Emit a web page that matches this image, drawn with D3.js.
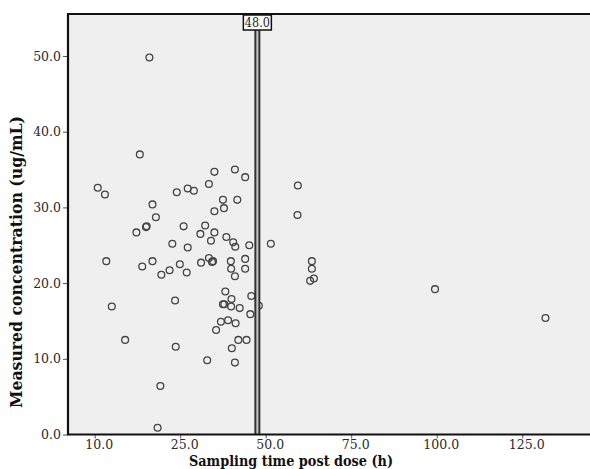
<!DOCTYPE html>
<html>
<head>
<meta charset="utf-8">
<script src="https://cdn.jsdelivr.net/npm/d3@7"></script>
<style>
body{margin:0;background:#fff;}
svg{display:block;}
.tick text{font-family:"DejaVu Serif",serif;font-size:12.5px;fill:#2a2a2a;}
</style>
</head>
<body>
<svg id="chart" width="590" height="469"></svg>
<script>
// sampling time (h) for each sample
var timeH = [16.0,13.2,0.9,3.0,24.0,27.2,29.0,33.4,35.0,41.0,44.0,16.9,17.9,12.2,15.0,15.2,26.0,37.5,41.7,35.0,
	37.8,32.3,30.9,35.0,38.5,59.4,59.3,22.7,27.2,34.0,40.5,41.1,45.2,51.5,3.4,13.9,16.9,24.9,31.1,33.4,
	34.3,34.6,39.8,44.0,39.9,41.0,44.0,19.5,21.9,26.9,38.2,40.0,45.8,37.5,37.9,39.9,42.4,45.5,48.0,5.0,
	23.5,36.9,39.0,41.2,35.5,8.9,42.0,44.4,23.7,40.1,32.9,41.0,19.2,18.4,63.5,63.5,64.1,63.0,99.5,131.8];
// measured concentration (ug/mL)
var conc = [49.8,37.0,32.6,31.7,32.0,32.5,32.2,33.1,34.7,35.0,34.0,30.4,28.7,26.7,27.4,27.5,27.5,31.0,31.0,29.5,
	29.9,27.6,26.5,26.7,26.1,32.9,29.0,25.2,24.7,25.6,25.4,24.8,25.0,25.2,22.9,22.2,22.9,22.5,22.7,23.3,
	22.8,22.9,22.9,23.2,21.9,20.9,21.9,21.1,21.7,21.4,18.9,17.9,18.3,17.2,17.2,16.9,16.7,15.9,17.0,16.9,
	17.7,14.9,15.1,14.7,13.8,12.5,12.5,12.5,11.6,11.4,9.8,9.5,6.4,0.9,22.9,21.9,20.6,20.3,19.2,15.4];
var yTicks = [0,10,20,30,40,50];
var xTickValues = [0,25,50,75,100,125];
var xTickLabels = ["10.0","25.0","50.0","75.0","100.0","125.0"];
var refLine = 48;

var svg = d3.select("#chart");
var pLeft = 68, pTop = 14, pRight = 592, pBottom = 434.5;

var x = d3.scaleLinear().domain([-7.8, 145.4]).range([pLeft, pRight]);
var y = d3.scaleLinear().domain([0, 55.55]).range([pBottom, pTop]);

// plot background
svg.append("rect").attr("x", pLeft).attr("y", pTop)
	.attr("width", pRight - pLeft + 4).attr("height", pBottom - pTop)
	.attr("fill", "#efefef");

// y axis
var yAxis = svg.append("g").attr("transform", "translate(" + pLeft + ",0)")
	.call(d3.axisLeft(y).tickValues(yTicks).tickFormat(d3.format(".1f")).tickSize(5).tickPadding(2));
yAxis.select(".domain").remove();
yAxis.selectAll(".tick line").attr("stroke", "#555");

// x axis
var xAxis = svg.append("g").attr("transform", "translate(0," + pBottom + ")")
	.call(d3.axisBottom(x).tickValues(xTickValues)
		.tickFormat(function(d, i){ return xTickLabels[i]; }).tickSize(4).tickPadding(2));
xAxis.select(".domain").remove();
xAxis.selectAll(".tick line").attr("stroke", "#555");
xAxis.selectAll(".tick text").attr("dx", 4);

// points
svg.append("g").selectAll("circle").data(timeH).enter().append("circle")
	.attr("cx", function(d){ return x(d); })
	.attr("cy", function(d, i){ return y(conc[i]); })
	.attr("r", 3.4)
	.attr("fill", "none")
	.attr("stroke", "#444")
	.attr("stroke-width", 1.3);

// reference line
var rx = x(refLine) - 1.5;
svg.append("line").attr("x1", rx).attr("x2", rx).attr("y1", pTop).attr("y2", pBottom)
	.attr("stroke", "#333").attr("stroke-width", 6);
svg.append("line").attr("x1", rx).attr("x2", rx).attr("y1", pTop).attr("y2", pBottom)
	.attr("stroke", "#c8c8c8").attr("stroke-width", 2);

// frame
svg.append("path")
	.attr("d", "M" + (pRight + 4) + "," + pTop + "H" + pLeft + "V" + pBottom + "H" + (pRight + 4))
	.attr("fill", "none").attr("stroke", "#111").attr("stroke-width", 2.2);

// reference label
var lab = svg.append("g");
lab.append("rect").attr("x", rx - 14).attr("y", pTop + 1).attr("width", 28).attr("height", 15)
	.attr("fill", "#fff").attr("stroke", "#111").attr("stroke-width", 1.5);
lab.append("text").attr("x", rx).attr("y", pTop + 13).attr("text-anchor", "middle")
	.attr("font-family", "DejaVu Serif").attr("font-size", 12).attr("fill", "#222")
	.attr("textLength", 25).attr("lengthAdjust", "spacingAndGlyphs")
	.text(d3.format(".1f")(refLine));

// axis titles
svg.append("text").attr("transform", "translate(22,262) rotate(-90)")
	.attr("text-anchor", "middle").attr("font-family", "DejaVu Serif").attr("font-weight", "bold")
	.attr("font-size", 16.5).attr("fill", "#111")
	.attr("textLength", 292).attr("lengthAdjust", "spacingAndGlyphs")
	.text("Measured concentration (ug/mL)");
svg.append("text").attr("x", 291).attr("y", 466)
	.attr("text-anchor", "middle").attr("font-family", "DejaVu Serif").attr("font-weight", "bold")
	.attr("font-size", 15.5).attr("fill", "#111")
	.attr("textLength", 204).attr("lengthAdjust", "spacingAndGlyphs")
	.text("Sampling time post dose (h)");
</script>
</body>
</html>
